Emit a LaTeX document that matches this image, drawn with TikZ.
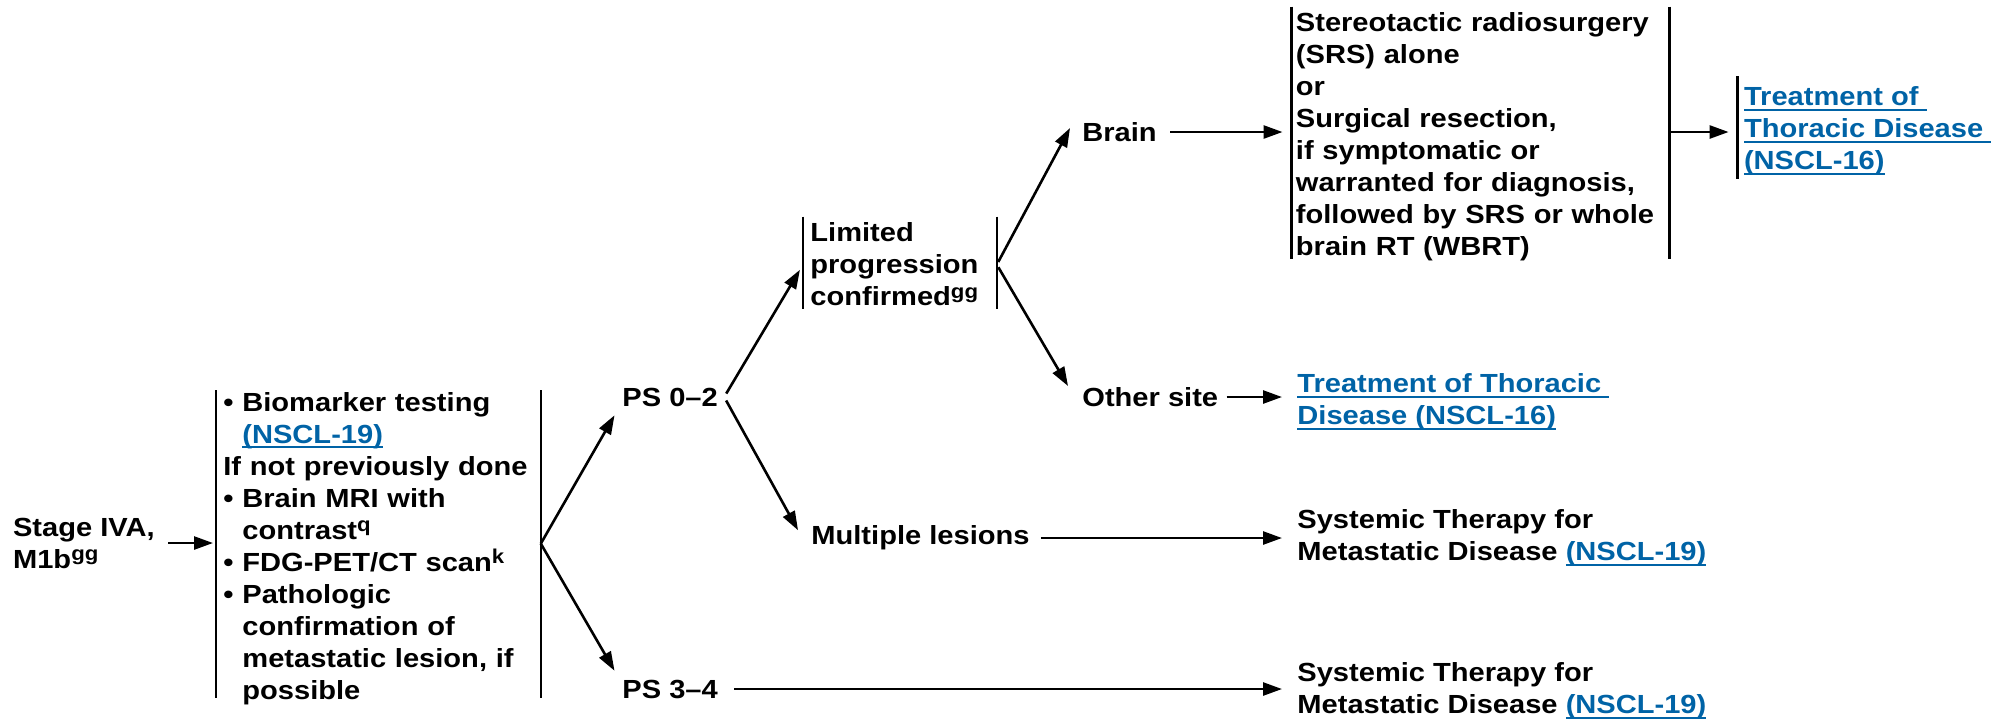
\documentclass[tikz,border=0pt]{standalone}
\usepackage{fontspec}
\setmainfont{Liberation Sans}[FakeStretch=1.11]
\usetikzlibrary{arrows.meta,positioning}
\definecolor{linkblue}{RGB}{0,99,166}
% link text: blue, underlined just under the baseline
\newcommand{\lnk}[1]{{\color{linkblue}\setbox0=\hbox{#1}\rlap{\rule[-2.5pt]{\wd0}{1pt}}\box0}}
\newcommand{\sups}[1]{\raisebox{3.8pt}{\fontsize{10pt}{10pt}\selectfont #1}}
\newcommand{\bul}{\makebox[9.5pt][l]{\textbullet}}
\newcommand{\ind}{\hspace*{9.5pt}}

\begin{document}
\begin{tikzpicture}[x=0.5pt,y=-0.5pt,
  txt/.style={align=left,inner sep=3pt,font=\fontsize{13.1pt}{16pt}\selectfont\bfseries},
  barbox/.style={txt,anchor=north west,inner ysep=0pt},
  arr/.style={line width=1.3pt,-{Triangle[length=9.5pt,width=6.5pt]},shorten >=4.5pt},
  bar/.style={line width=1.2pt}]
\useasboundingbox (0,0) rectangle (2005,720);

% Entry and workup
\node[txt,anchor=west] (stage) at (6.7,543) {Stage IVA,\\M1b\sups{gg}};
\node[barbox,inner xsep=3.5pt,text width=155pt] (tests) at (216,392) {%
  \bul Biomarker testing\\
  \ind\lnk{(NSCL-19)}\\
  If not previously done\\
  \bul Brain MRI with\\
  \ind contrast\sups{q}\\
  \bul FDG-PET/CT scan\sups{k}\\
  \bul Pathologic\\
  \ind confirmation of\\
  \ind metastatic lesion, if\\
  \ind possible};
\draw[bar] ([yshift=1pt]tests.north west) -- ([yshift=3.5pt]tests.south west);
\draw[bar] ([yshift=1pt]tests.north east) -- ([yshift=3.5pt]tests.south east);

% Performance status
\node[txt,anchor=west] (ps02) at (616,397) {PS 0–2};
\node[txt,anchor=west] (ps34) at (616,689) {PS 3–4};

% Progression
\node[barbox,inner xsep=3.5pt,text width=89.5pt] (limited) at (803,222.6) {%
  Limited\\progression\\confirmed\sups{gg}};
\draw[bar] ([yshift=3pt]limited.north west) -- ([yshift=-1pt]limited.south west);
\draw[bar] ([yshift=3pt]limited.north east) -- ([yshift=-1pt]limited.south east);
\node[txt,anchor=west] (ml) at (805,538) {Multiple lesions};

% Sites
\node[txt,anchor=west] (brain) at (1076,132) {Brain};
\node[txt,anchor=west] (other) at (1076,397) {Other site};

% Treatment
\node[barbox,inner xsep=2pt,text width=184.5pt] (srs) at (1291.5,12.6) {%
  Stereotactic radiosurgery\\
  (SRS) alone\\
  or\\
  Surgical resection,\\
  if symptomatic or\\
  warranted for diagnosis,\\
  followed by SRS or whole\\
  brain RT (WBRT)};
\draw[bar] ([yshift=3pt]srs.north west) -- ([yshift=1.5pt]srs.south west);
\draw[bar] ([yshift=3pt]srs.north east) -- ([yshift=1.5pt]srs.south east);
\node[txt,anchor=west] (treat1) at (1737.6,131) {%
  \lnk{Treatment of\ }\\\lnk{Thoracic Disease\ }\\\lnk{(NSCL-16)}};
\draw[bar] ([yshift=2pt]treat1.north west) -- ([yshift=1.2pt]treat1.south west);
\node[txt,anchor=west] (treat2) at (1291,402) {%
  \lnk{Treatment of Thoracic\ }\\\lnk{Disease (NSCL-16)}};
\node[txt,anchor=west] (sys1) at (1291,538) {%
  Systemic Therapy for\\Metastatic Disease \lnk{(NSCL-19)}};
\node[txt,anchor=west] (sys2) at (1291,691) {%
  Systemic Therapy for\\Metastatic Disease \lnk{(NSCL-19)}};

% Connectors
\draw[arr,shorten <=3.5pt,shorten >=1.5pt] (stage) -- (stage -| tests.west);
\draw[arr,shorten >=1.5pt] ([shift={(0,-5)}]tests.east) -- (ps02.south west);
\draw[arr,shorten >=1.5pt] ([shift={(0,-5)}]tests.east) -- (ps34.north west);
\draw[arr,shorten <=2pt,shorten >=3pt] (ps02.east) -- (limited.west);
\draw[arr,shorten <=2pt,shorten >=1pt] (ps02.east) -- ([shift={(-6,-6)}]ml.west);
\draw[arr,shorten <=1.5pt,shorten >=0pt] (limited.east) -- ([shift={(-6,-4)}]brain.west);
\draw[arr,shorten <=1.5pt,shorten >=0pt] (limited.east) -- ([shift={(-8,-11)}]other.west);
\draw[arr,shorten <=3.5pt] (brain) -- (brain -| srs.west);
\draw[arr] (brain -| srs.east) -- (brain -| treat1.west);
\draw[arr,shorten <=1pt] (other) -- (other -| treat2.west);
\draw[arr,shorten <=2.5pt] (ml) -- (ml -| sys1.west);
\draw[arr,shorten <=5pt] (ps34) -- (ps34 -| sys2.west);
\end{tikzpicture}
\end{document}
